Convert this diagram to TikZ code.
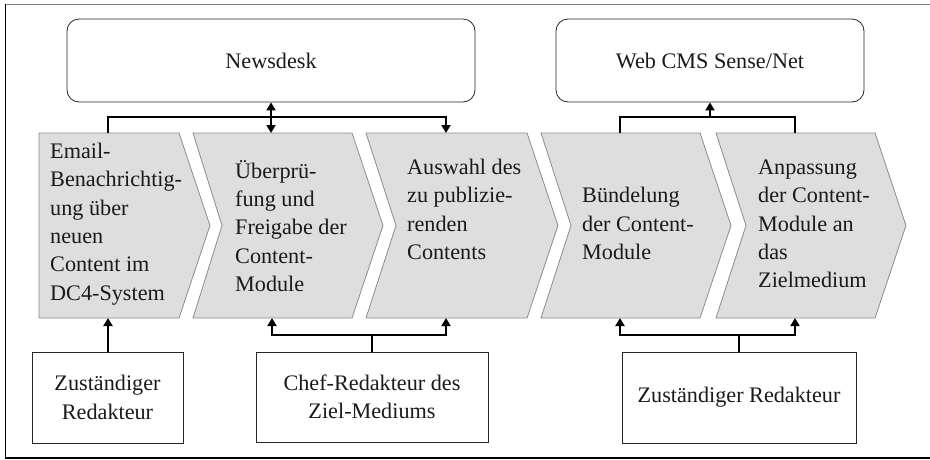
\documentclass[tikz,border=0pt]{standalone}
\usepackage{fontspec}
\setmainfont{Liberation Serif}
\usetikzlibrary{arrows.meta}
\definecolor{chevfill}{HTML}{DEDEDE}
\definecolor{chevline}{HTML}{8C8C8C}
\definecolor{framegray}{HTML}{7F7F7F}
\definecolor{txtcol}{HTML}{1A1A1A}
\begin{document}
\begin{tikzpicture}[x=1pt,y=-1pt,
  txt/.style={font=\fontsize{22.2}{28.3}\selectfont, text=txtcol, inner sep=0pt},
  chev/.style={fill=chevfill, draw=chevline, line width=0.8pt, line join=miter},
  sysbox/.style={draw=black!85, line width=0.8pt, rounded corners=12pt, inner sep=0pt, text=txtcol, font=\fontsize{22.2}{28.3}\selectfont, align=center},
  rolebox/.style={draw=black!85, line width=0.8pt, inner sep=0pt, text=txtcol, font=\fontsize{22.2}{28.3}\selectfont, align=center},
  conn/.style={line width=1.8pt, black, line join=miter},
  tip/.tip={Triangle[length=8pt,width=9pt]}
]
\useasboundingbox (0,0) rectangle (930,459);
% frame
\draw[framegray, line width=1.4pt] (5,4.5) -- (930,4.5);
\draw[black, line width=1pt] (5.5,4) -- (5.5,458);
\draw[black, line width=1.4pt] (5,458) -- (930,458);

% system boxes
\node[sysbox, minimum width=408pt, minimum height=83pt] (news) at (271,60.5) {Newsdesk};
\node[sysbox, minimum width=308pt, minimum height=83pt] (web) at (710,60.5) {Web CMS Sense/Net};

% chevrons
\draw[chev] (39,133) -- (179,133) -- (210,225.5) -- (179,318) -- (39,318) -- cycle;
\draw[chev] (193,133) -- (352,133) -- (383,225.5) -- (352,318) -- (193,318) -- (222,225.5) -- cycle;
\draw[chev] (366,133) -- (527,133) -- (558,225.5) -- (527,318) -- (366,318) -- (396,225.5) -- cycle;
\draw[chev] (541,133) -- (700,133) -- (731,225.5) -- (700,318) -- (541,318) -- (571,225.5) -- cycle;
\draw[chev] (716,133) -- (875,133) -- (906,225.5) -- (875,318) -- (716,318) -- (746,225.5) -- cycle;

\node[txt, anchor=west, align=left] (t1) at (50,224) {Email-\\Benachrichtig-\\ung über\\neuen\\Content im\\DC4-System};
\node[txt, anchor=west, align=left] (t2) at (235,226) {Überprü-\\fung und\\Freigabe der\\Content-\\Module};
\node[txt, anchor=west, align=left] (t3) at (407,209.5) {Auswahl des\\zu publizie-\\renden\\Contents};
\node[txt, anchor=west, align=left] (t4) at (582,223.5) {Bündelung\\der Content-\\Module};
\node[txt, anchor=west, align=left] (t5) at (758,224) {Anpassung\\der Content-\\Module an\\das\\Zielmedium};

% connection points on chevrons
\coordinate (c1t) at (108,133); \coordinate (c1b) at (108,318);
\coordinate (c2t) at (271,133); \coordinate (c2b) at (272,318);
\coordinate (c3t) at (446,133); \coordinate (c3b) at (446,318);
\coordinate (c4t) at (620,133); \coordinate (c4b) at (620,318);
\coordinate (c5t) at (795,133); \coordinate (c5b) at (795,318);
\coordinate (tbar) at (0,117);
\coordinate (bbar) at (0,335);

% role boxes
\node[rolebox, minimum width=151pt, minimum height=91pt] (red1) at (107.5,397.5) {Zuständiger\\Redakteur};
\node[rolebox, minimum width=232pt, minimum height=90pt] (chef) at (372,397) {Chef-Redakteur des\\Ziel-Mediums};
\node[rolebox, minimum width=234pt, minimum height=91pt] (red2) at (739,397.5) {Zuständiger Redakteur};

% top connectors
\draw[conn, -tip] (c1t) -- (c1t |- tbar) -- (c3t |- tbar) -- (c3t);
\draw[conn, tip-tip] (news.south) -- (c2t);
\draw[conn] (c4t) -- (c4t |- tbar) -- (c5t |- tbar) -- (c5t);
\draw[conn, -tip] (web.south |- tbar) -- (web.south);

% bottom connectors
\draw[conn, -tip] (red1.north -| c1b) -- (c1b);
\draw[conn, tip-tip] (c2b) -- (c2b |- bbar) -- (c3b |- bbar) -- (c3b);
\draw[conn] (chef.north) -- (chef.north |- bbar);
\draw[conn, tip-tip] (c4b) -- (c4b |- bbar) -- (c5b |- bbar) -- (c5b);
\draw[conn] (red2.north) -- (red2.north |- bbar);
\end{tikzpicture}
\end{document}
